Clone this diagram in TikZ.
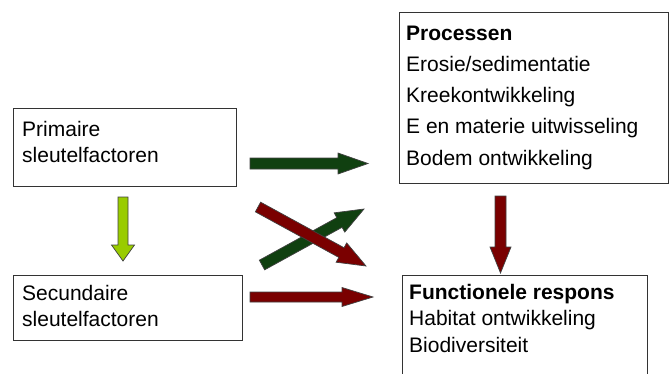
\documentclass[tikz,border=0pt]{standalone}
\usepackage{fontspec}
\setmainfont{Liberation Sans}
\usetikzlibrary{calc}
\definecolor{dkgreen}{RGB}{16,64,16}
\definecolor{maroonred}{RGB}{122,0,0}
\definecolor{limegreen}{RGB}{153,204,0}
\tikzset{
  box/.style={draw=black!80, line width=1.1pt, fill=white, inner sep=0pt, anchor=north west},
  txt/.style={anchor=base west, inner sep=0pt, font=\fontsize{21}{25}\selectfont},
  btxt/.style={txt, font=\fontsize{21}{25}\selectfont\bfseries},
  arrline/.style={draw=black!75, line width=0.7pt, line join=miter}
}
\newcommand\blockarr[6]{%
  \path let \p1=(#1), \p2=(#2) in \pgfextra{%
    \pgfmathparse{atan2(\y2-\y1,\x2-\x1)}\xdef\arrang{\pgfmathresult}%
    \pgfmathparse{veclen(\x2-\x1,\y2-\y1)}\xdef\arrlen{\pgfmathresult}};
  \begin{scope}[shift={(#1)}, rotate=\arrang]
    \filldraw[fill=#6, arrline] (0pt,#3pt) -- ({\arrlen pt-#5pt},#3pt) -- ({\arrlen pt-#5pt},#4pt)
      -- (\arrlen pt,0pt) -- ({\arrlen pt-#5pt},-#4pt) -- ({\arrlen pt-#5pt},-#3pt) -- (0pt,-#3pt) -- cycle;
  \end{scope}}
\begin{document}
\begin{tikzpicture}[x=1pt, y=-1pt]
\useasboundingbox (0,0) rectangle (669,373);
\clip (0,0) rectangle (669,373);

% boxes
\node[box, minimum width=223pt, minimum height=78pt] (prim) at (13,108) {};
\node[box, minimum width=229pt, minimum height=65pt] (sec) at (13,275) {};
\node[box, minimum width=269pt, minimum height=171pt] (proc) at (399,12) {};
\node[box, minimum width=245pt, minimum height=130pt] (func) at (402,275) {};

% texts
\node[txt] (p1) at (22,136.5) {Primaire};
\node[txt] (p2) at (22,162.5) {sleutelfactoren};
\node[txt] (s1) at (22,300) {Secundaire};
\node[txt] (s2) at (22,326) {sleutelfactoren};
\node[btxt] (r1) at (406,40) {Processen};
\node[txt] (r2) at (406,71.25) {Erosie/sedimentatie};
\node[txt] (r3) at (406,102.5) {Kreekontwikkeling};
\node[txt] (r4) at (406,133.75) {E en materie uitwisseling};
\node[txt] (r5) at (406,165) {Bodem ontwikkeling};
\node[btxt] (f1) at (409,299) {Functionele respons};
\node[txt] (f2) at (409,325.5) {Habitat ontwikkeling};
\node[txt] (f3) at (409,352) {Biodiversiteit};

% arrow end points
\coordinate (g1a) at (250,163.5);  \coordinate (g1b) at (368,163.5);
\coordinate (r1a) at (250,297);    \coordinate (r1b) at (373,297);
\coordinate (g2a) at (262,265);    \coordinate (g2b) at (364,209);
\coordinate (r2a) at (258,207);    \coordinate (r2b) at (366,266);
\coordinate (la)  at (123,197);    \coordinate (lb)  at (123,261);
\coordinate (ra)  at (500.5,196);  \coordinate (rb)  at (500.5,273);

% arrows
\blockarr{g1a}{g1b}{5.5}{10.5}{30}{dkgreen}
\blockarr{r1a}{r1b}{5}{9.5}{31}{maroonred}
\blockarr{g2a}{g2b}{5.5}{11}{28}{dkgreen}
\blockarr{r2a}{r2b}{5.5}{11}{28}{maroonred}
\blockarr{la}{lb}{5}{11.5}{16}{limegreen}
\blockarr{ra}{rb}{5.5}{10.5}{26}{maroonred}
\end{tikzpicture}
\end{document}
